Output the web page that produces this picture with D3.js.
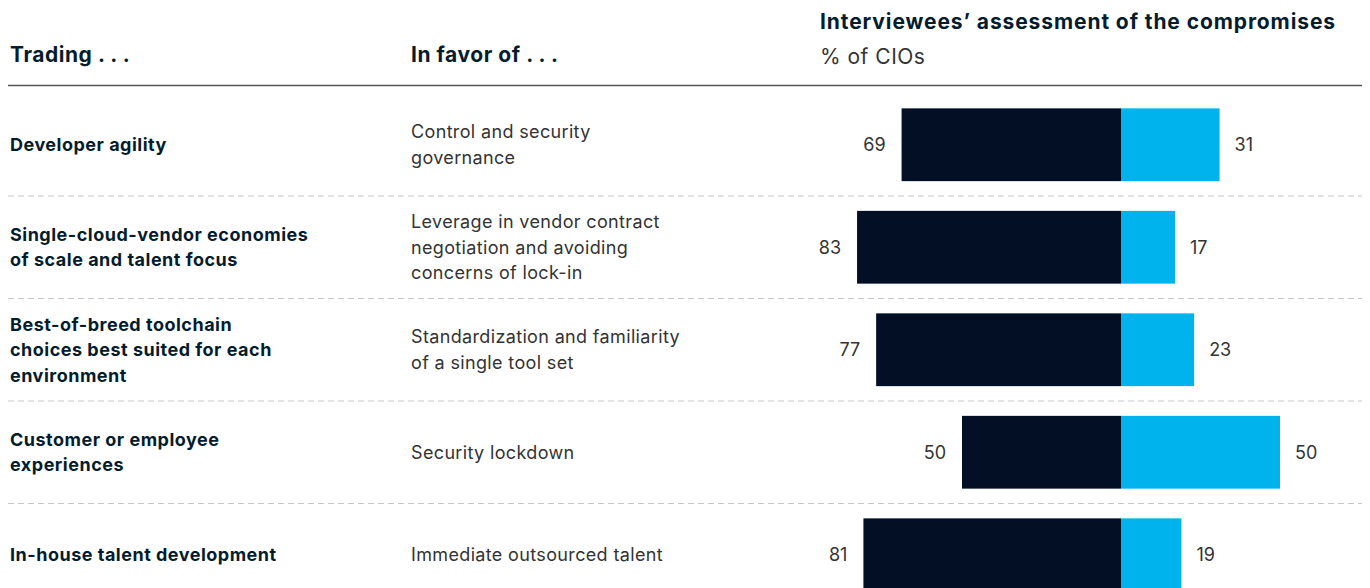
<!DOCTYPE html>
<html><head><meta charset="utf-8">
<script src="https://cdn.jsdelivr.net/npm/d3@7"></script>
<style>
html,body{margin:0;padding:0;background:#fff;}
svg{display:block;font-family:Inter,"Liberation Sans",Arial,sans-serif;}
</style></head>
<body><svg id="c" width="1370" height="588"></svg>
<script>
const trading = [
  ["Developer agility"],
  ["Single-cloud-vendor economies", "of scale and talent focus"],
  ["Best-of-breed toolchain", "choices best suited for each", "environment"],
  ["Customer or employee", "experiences"],
  ["In-house talent development"]
];
const inFavorOf = [
  ["Control and security", "governance"],
  ["Leverage in vendor contract", "negotiation and avoiding", "concerns of lock-in"],
  ["Standardization and familiarity", "of a single tool set"],
  ["Security lockdown"],
  ["Immediate outsourced talent"]
];
const tradingPct = [69, 83, 77, 50, 81];
const favorPct = [31, 17, 23, 50, 19];
const headers = ["Trading . . .", "In favor of . . .", "Interviewees\u2019 assessment of the compromises", "% of CIOs"];

const svg = d3.select("#c");
const dark = "#020f25", cyan = "#00b3ec", textC = "#051c2c", grey = "#333";
const fs = 18, hfs = 21;

const idx = d3.range(tradingPct.length);
const y = d3.scaleBand().domain(idx).range([93.5, 606]).paddingInner(0.29).paddingOuter(0.145);
const center = 1121;
const x = d3.scaleLinear().domain([0, 100]).range([0, 318]);

// headers
function head(xp, yp, txt, w, col, ls) {
  svg.append("text").attr("x", xp).attr("y", yp).attr("font-size", hfs).attr("font-weight", w)
    .attr("letter-spacing", ls).attr("fill", col).text(txt);
}
head(10, 62, headers[0], 700, textC, 0.55);
head(411, 62, headers[1], 700, textC, 0.55);
head(820, 29, headers[2], 700, textC, 0.9);
head(820, 64, headers[3], 400, grey, 0.5);

svg.append("line").attr("x1", 8).attr("x2", 1362).attr("y1", 85.5).attr("y2", 85.5).attr("stroke", "#555").attr("stroke-width", 1.3);

// dashed separators
idx.slice(1).forEach(i => {
  const yy = y(i) - y.step() * y.paddingInner() / 2;
  svg.append("line").attr("x1", 8).attr("x2", 1362).attr("y1", yy).attr("y2", yy)
    .attr("stroke", "#c8c8c8").attr("stroke-width", 1.2).attr("stroke-dasharray", "6,4");
});

const rows = svg.selectAll("g.row").data(idx).join("g").attr("class", "row");

rows.append("rect").attr("x", i => center - x(tradingPct[i])).attr("y", i => y(i))
  .attr("width", i => x(tradingPct[i])).attr("height", y.bandwidth()).attr("fill", dark);
rows.append("rect").attr("x", center).attr("y", i => y(i))
  .attr("width", i => x(favorPct[i])).attr("height", y.bandwidth()).attr("fill", cyan);

rows.append("text").attr("x", i => center - x(tradingPct[i]) - 16).attr("y", i => y(i) + y.bandwidth() / 2)
  .attr("dy", "0.35em").attr("text-anchor", "end").attr("font-size", fs).attr("fill", grey).text(i => tradingPct[i]);
rows.append("text").attr("x", i => center + x(favorPct[i]) + 15).attr("y", i => y(i) + y.bandwidth() / 2)
  .attr("dy", "0.35em").attr("font-size", fs).attr("fill", grey).text(i => favorPct[i]);

const lh = 25.5;
function multi(sel, xPos, arr, weight, color, off, ls) {
  sel.append("text").attr("x", xPos).attr("font-size", fs).attr("font-weight", weight).attr("fill", color)
    .attr("letter-spacing", ls)
    .each(function(i) {
      const lines = arr[i];
      const cy = y(i) + y.bandwidth() / 2 + off;
      const t = d3.select(this);
      lines.forEach((l, k) => {
        t.append("tspan").attr("x", xPos).attr("y", cy + (k - (lines.length - 1) / 2) * lh).attr("dy", "0.35em").text(l);
      });
    });
}
multi(rows, 10, trading, 700, textC, 0, 0.5);
multi(rows, 411, inFavorOf, 400, grey, 0, 0.35);
</script></body></html>
